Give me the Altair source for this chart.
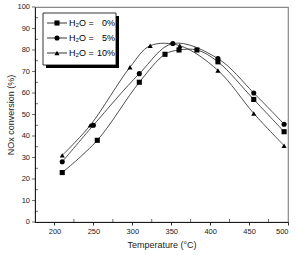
import altair as alt
import pandas as pd

# Data
t0 = [210, 255, 309, 342, 360, 383, 410, 456, 495]
v0 = [23, 38, 65, 78, 80, 80, 74.5, 57, 42]
t5 = [210, 250, 309, 352, 410, 456, 495]
v5 = [28, 45, 69, 83, 76, 60, 45.5]
t10 = [210, 246, 297, 323, 361, 410, 456, 495]
v10 = [31, 45, 72, 82, 82, 70.5, 50.5, 35.5]
series = ["0%", "5%", "10%"]
shapes = ["square", "circle", "triangle-up"]
x_ticks = [200, 250, 300, 350, 400, 450, 500]
y_ticks = [0, 10, 20, 30, 40, 50, 60, 70, 80, 90, 100]

rows = []
for s, ts, vs in zip(series, [t0, t5, t10], [v0, v5, v10]):
    for t, v in zip(ts, vs):
        rows.append({"series": s, "T": t, "conv": v})
df = pd.DataFrame(rows)

FONT = "Liberation Sans"
xs = alt.Scale(domain=[175, 500], nice=False)
ys = alt.Scale(domain=[0, 100], nice=False)

x = alt.X("T:Q", scale=xs,
          axis=alt.Axis(values=x_ticks, title="Temperature (\u00b0C)", grid=False,
                        labelOverlap=False))
y = alt.Y("conv:Q", scale=ys,
          axis=alt.Axis(title="NOx conversion (%)", grid=False, labels=False, ticks=False,
                        titlePadding=20))
shape = alt.Shape("series:N", scale=alt.Scale(domain=series, range=shapes), legend=None)

base = alt.Chart(df)
lines = base.mark_line(color="#222", strokeWidth=0.8, interpolate="catmull-rom").encode(
    x=x, y=y, detail="series:N")
points = base.mark_point(filled=True, color="black", opacity=1, size=26).encode(
    x=x, y=y, shape=shape)

# y tick labels and ticks drawn through the y scale
ydf = pd.DataFrame({"conv": y_ticks, "lab": [str(v) for v in y_ticks]})
y_labels = alt.Chart(ydf).mark_text(align="right", baseline="middle", font=FONT,
                                     fontSize=7.5, color="#222").encode(
    y=y, x=alt.value(-5), text="lab:N")
y_major = alt.Chart(ydf).mark_tick(color="black", thickness=0.8, size=3,
                                   orient="horizontal", xOffset=-1.5).encode(
    y=y, x=alt.value(0))

# minor ticks
minor_x = alt.Chart(pd.DataFrame({"T": [225, 275, 325, 375, 425, 475]})).mark_tick(
    color="black", thickness=0.8, size=3, yOffset=-1.5).encode(
    x=x, y=alt.value(215))
minor_y = alt.Chart(pd.DataFrame({"conv": list(range(5, 100, 10))})).mark_tick(
    color="black", thickness=0.8, size=3, orient="horizontal", xOffset=1.5).encode(
    y=y, x=alt.value(0))

one = alt.Data(values=[{}])
# legend box (pixel coordinates relative to plot area)
lx0, ly0 = 8, 6
shadow = alt.Chart(one).mark_rect(color="black").encode(
    x=alt.value(lx0 + 3), x2=alt.value(lx0 + 76), y=alt.value(ly0 + 3), y2=alt.value(ly0 + 55))
box = alt.Chart(one).mark_rect(fill="white", stroke="black", strokeWidth=0.8).encode(
    x=alt.value(lx0), x2=alt.value(lx0 + 73), y=alt.value(ly0), y2=alt.value(ly0 + 52))

legend_layers = [shadow, box]
for i, (s, sh) in enumerate(zip(series, shapes)):
    yy = ly0 + 10 + i * 15
    legend_layers.append(alt.Chart(one).mark_rule(color="black", strokeWidth=0.8).encode(
        x=alt.value(lx0 + 4), x2=alt.value(lx0 + 24), y=alt.value(yy)))
    legend_layers.append(alt.Chart(one).mark_point(shape=sh, filled=True, color="black",
                                                   opacity=1, size=26).encode(
        x=alt.value(lx0 + 14), y=alt.value(yy)))
    legend_layers.append(alt.Chart(one).mark_text(align="left", baseline="middle",
                                                  fontSize=9, font=FONT, text="H\u2082O =").encode(
        x=alt.value(lx0 + 26), y=alt.value(yy)))
    legend_layers.append(alt.Chart(one).mark_text(align="right", baseline="middle",
                                                  fontSize=9, font=FONT, text=s).encode(
        x=alt.value(lx0 + 72), y=alt.value(yy)))

chart = alt.layer(lines, points, y_labels, y_major, minor_x, minor_y, *legend_layers).properties(
    width=253, height=215,
    autosize=alt.AutoSizeParams(type="none"),
    padding={"left": 35, "top": 7, "right": 11, "bottom": 33},
).configure_view(stroke="#888", strokeWidth=1.2).configure_axis(
    domainColor="black", tickColor="black", tickSize=3, domainWidth=0.8, tickWidth=0.8,
    labelFont=FONT, titleFont=FONT, labelFontSize=7.5, titleFontSize=9,
    labelColor="#222", titleColor="#222", titleFontWeight="normal", labelPadding=2,
    labelOverlap=False,
).configure_axisX(titlePadding=6)

chart.save("out.html", embed_options={"renderer": "svg", "actions": False})
